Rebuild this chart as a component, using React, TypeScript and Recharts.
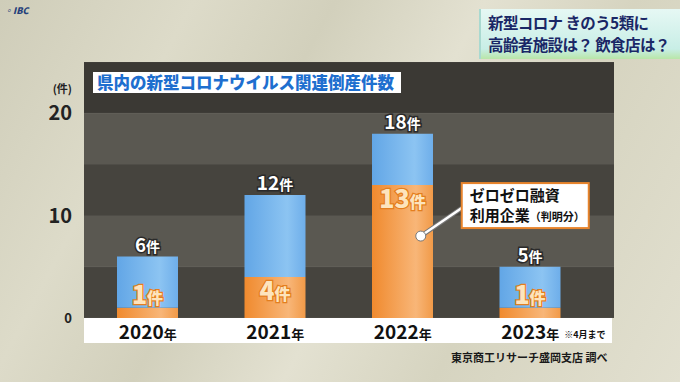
import { BarChart, Bar, XAxis, YAxis, CartesianGrid, LabelList, ReferenceDot } from "recharts";

const years = ["2020年", "2021年", "2022年", "2023年"];
const totalCases = [6, 12, 18, 5];
const zeroZeroCases = [1, 4, 13, 1];
const yTicks = [0, 5, 10, 15, 20, 25];
const labeledTicks = [0, 10, 20];

const FONT = '"Noto Sans CJK JP", "Noto Sans", sans-serif';

const chartData = years.map((year, i) => ({
  year,
  zero: zeroZeroCases[i],
  other: totalCases[i] - zeroZeroCases[i],
  total: totalCases[i],
}));

function YTick(props: any) {
  const { x, y, payload } = props;
  const v = payload.value;
  if (!labeledTicks.includes(v)) return null;
  return (
    <g>
      <text
        x={x - 4}
        y={y}
        dy={v === 0 ? 5 : 7}
        textAnchor="end"
        fontFamily={FONT}
        fontWeight={700}
        fontSize={v === 0 ? 13 : 20}
        fill="#222"
      >
        {v}
      </text>
      {v === 20 && (
        <text x={x - 4} y={y - 20} textAnchor="end" fontFamily={FONT} fontWeight={700} fontSize={11} fill="#222">
          (件)
        </text>
      )}
    </g>
  );
}

function XTick(props: any) {
  const { x, y, payload } = props;
  const num = String(payload.value).replace("年", "");
  return (
    <g>
      <text x={x} y={y + 13} textAnchor="middle" fontFamily={FONT} fontWeight={700} fill="#111">
        <tspan fontSize={19}>{num}</tspan>
        <tspan fontSize={13}>年</tspan>
      </text>
      {num === "2023" && (
        <text x={x + 34} y={y + 12} fontFamily={FONT} fontWeight={700} fontSize={9} fill="#111">
          ※4月まで
        </text>
      )}
    </g>
  );
}

function TotalLabel(props: any) {
  const { x, y, width, value } = props;
  return (
    <text
      x={x + width / 2}
      y={y - 5}
      textAnchor="middle"
      fontFamily={FONT}
      fontWeight={700}
      fill="#fff"
      stroke="#2a2a2a"
      strokeWidth={3}
      paintOrder="stroke"
    >
      <tspan fontSize={19}>{value}</tspan>
      <tspan fontSize={14}>件</tspan>
    </text>
  );
}

function ZeroLabel(props: any) {
  const { x, y, width, height, value } = props;
  const ty = height > 25 ? y + 23 : y - 4;
  return (
    <text
      x={x + width / 2}
      y={ty}
      textAnchor="middle"
      fontFamily={FONT}
      fontWeight={900}
      fill="#fde4bd"
      stroke="#e47e1e"
      strokeWidth={2.5}
      paintOrder="stroke"
    >
      <tspan fontSize={25}>{value}</tspan>
      <tspan fontSize={16}>件</tspan>
    </text>
  );
}

function Callout(props: any) {
  const { cx, cy } = props;
  const dx = cx + 18;
  const bx = cx + 59;
  const by = cy - 53;
  return (
    <g>
      <line x1={dx} y1={cy} x2={bx} y2={cy - 28} stroke="#777" strokeWidth={4.5} />
      <line x1={dx} y1={cy} x2={bx} y2={cy - 28} stroke="#fff" strokeWidth={2.5} />
      <circle cx={dx} cy={cy} r={5} fill="#fff" stroke="#777" strokeWidth={1} />
      <rect x={bx} y={by} width={127} height={45} fill="#fff" stroke="#e8842c" strokeWidth={2} />
      <text x={bx + 8} y={by + 18} fontFamily={FONT} fontWeight={700} fontSize={15} fill="#111">
        ゼロゼロ融資
      </text>
      <text x={bx + 8} y={by + 38} fontFamily={FONT} fontWeight={700} fill="#111">
        <tspan fontSize={15}>利用企業</tspan>
        <tspan fontSize={11}>（判明分）</tspan>
      </text>
    </g>
  );
}

export default function App() {
  return (
    <div
      style={{
        position: "absolute",
        left: 0,
        top: 0,
        width: 680,
        height: 382,
        overflow: "hidden",
        fontFamily: FONT,
        background:
          "linear-gradient(118deg, #cfcdb9 0%, #dddbc9 22%, #d2d0bc 38%, #e3e1d1 55%, #d6d4c0 72%, #e2e0d0 100%)",
      }}
    >
      <div style={{ position: "absolute", left: 4, top: 4, fontSize: 9, fontWeight: 900, fontStyle: "italic", color: "#24407a" }}>
        ◦IBC
      </div>
      <div
        style={{
          position: "absolute",
          left: 479,
          top: 9,
          width: 205,
          height: 50,
          background: "linear-gradient(180deg, #e6f8f4 0%, #c8eee6 80%, #b9e6a8 100%)",
          borderLeft: "2px solid #a9d9d0",
          boxSizing: "border-box",
          padding: "2px 0 0 7px",
          color: "#1a2766",
          fontWeight: 700,
          fontSize: 15.5,
          letterSpacing: -0.6,
          lineHeight: "22px",
          whiteSpace: "nowrap",
        }}
      >
        <div>新型コロナ きのう5類に</div>
        <div>高齢者施設は？ 飲食店は？</div>
      </div>
      <div style={{ position: "absolute", left: 84, top: 318, width: 528, height: 25, background: "#fff" }} />
      <div style={{ position: "absolute", left: 0, top: 0 }}>
        <BarChart
          width={680}
          height={382}
          data={chartData}
          margin={{ top: 62, right: 66, left: 44, bottom: 38 }}
          barSize={61}
        >
          <defs>
            <linearGradient id="blueGrad" x1="0" y1="0" x2="1" y2="0">
              <stop offset="0%" stopColor="#62a6e6" />
              <stop offset="70%" stopColor="#8cc4f2" />
              <stop offset="100%" stopColor="#6eaeea" />
            </linearGradient>
            <linearGradient id="orangeGrad" x1="0" y1="0" x2="1" y2="0">
              <stop offset="0%" stopColor="#f08a2e" />
              <stop offset="72%" stopColor="#f8b678" />
              <stop offset="100%" stopColor="#f19a48" />
            </linearGradient>
          </defs>
          <CartesianGrid
            vertical={false}
            stroke="rgba(255,255,255,0.06)"
            horizontalFill={["#3b3934", "#5a5851", "#46443e", "#5a5851", "#46443e"]}
            fillOpacity={1}
          />
          <XAxis
            dataKey="year"
            axisLine={false}
            tickLine={false}
            height={26}
            padding={{ left: 0, right: 20 }}
            tick={<XTick />}
            interval={0}
          />
          <YAxis
            width={40}
            domain={[0, 25]}
            ticks={yTicks}
            axisLine={false}
            tickLine={false}
            tick={<YTick />}
            interval={0}
          />
          <Bar dataKey="zero" stackId="a" fill="url(#orangeGrad)" isAnimationActive={false}>
            <LabelList dataKey="zero" content={<ZeroLabel />} />
          </Bar>
          <Bar dataKey="other" stackId="a" fill="url(#blueGrad)" isAnimationActive={false}>
            <LabelList dataKey="total" content={<TotalLabel />} />
          </Bar>
          <ReferenceDot x="2022年" y={8} r={5} shape={<Callout />} />
        </BarChart>
      </div>
      <div
        style={{
          position: "absolute",
          left: 93,
          top: 72,
          width: 308,
          height: 21,
          background: "#fff",
          color: "#1e6fcf",
          fontWeight: 900,
          fontSize: 16.5,
          lineHeight: "21px",
          paddingLeft: 4,
          boxSizing: "border-box",
          whiteSpace: "nowrap",
        }}
      >
        県内の新型コロナウイルス関連倒産件数
      </div>
      <div style={{ position: "absolute", left: 451, top: 349, fontSize: 11, fontWeight: 700, color: "#1a1a1a" }}>
        東京商工リサーチ盛岡支店 調べ
      </div>
    </div>
  );
}
